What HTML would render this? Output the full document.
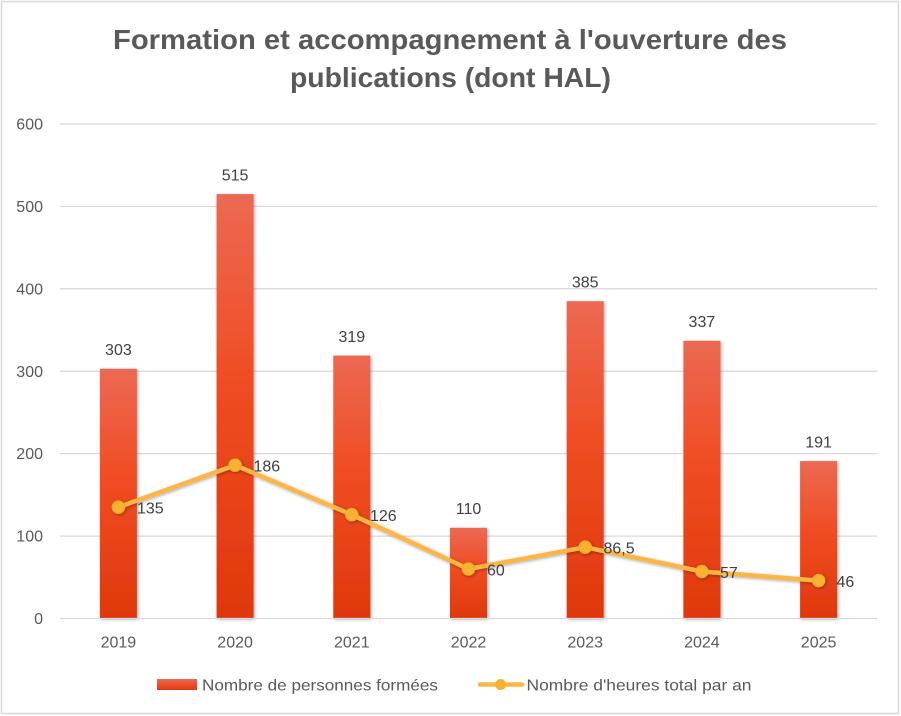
<!DOCTYPE html>
<html>
<head>
<meta charset="utf-8">
<style>
  html,body{margin:0;padding:0;background:#fff;}
  svg{display:block;}
  text{font-family:"Liberation Sans", Arial, sans-serif;}
</style>
</head>
<body>
<svg width="901" height="716" viewBox="0 0 901 716" xmlns="http://www.w3.org/2000/svg">
  <defs>
    <linearGradient id="barg" x1="0" y1="0" x2="0" y2="1">
      <stop offset="0" stop-color="#EC6953"/>
      <stop offset="0.45" stop-color="#F04C21"/>
      <stop offset="1" stop-color="#DF380C"/>
    </linearGradient>
    <linearGradient id="legg" x1="0" y1="0" x2="0" y2="1">
      <stop offset="0" stop-color="#EC6953"/>
      <stop offset="1" stop-color="#E23A0E"/>
    </linearGradient>
    <filter id="sh" x="-30%" y="-10%" width="160%" height="130%">
      <feGaussianBlur in="SourceAlpha" stdDeviation="1.6"/>
      <feOffset dx="0.8" dy="1.2" result="b"/>
      <feComponentTransfer><feFuncA type="linear" slope="0.35"/></feComponentTransfer>
      <feMerge><feMergeNode/><feMergeNode in="SourceGraphic"/></feMerge>
    </filter>
  </defs>

  <rect x="0" y="0" width="901" height="716" fill="#fff"/>
  <rect x="1.5" y="1.5" width="897" height="712" fill="none" stroke="#D9D9D9" stroke-width="1.5"/>

  <!-- Title -->
  <text x="450" y="49" text-anchor="middle" font-size="28" font-weight="bold" fill="#595959" textLength="674" lengthAdjust="spacingAndGlyphs">Formation et accompagnement à l'ouverture des</text>
  <text x="450.5" y="87" text-anchor="middle" font-size="28" font-weight="bold" fill="#595959" textLength="321" lengthAdjust="spacingAndGlyphs">publications (dont HAL)</text>

  <!-- Gridlines -->
  <g stroke="#D9D9D9" stroke-width="1.3">
    <line x1="60" y1="124" x2="877" y2="124"/>
    <line x1="60" y1="206.4" x2="877" y2="206.4"/>
    <line x1="60" y1="288.8" x2="877" y2="288.8"/>
    <line x1="60" y1="371.2" x2="877" y2="371.2"/>
    <line x1="60" y1="453.6" x2="877" y2="453.6"/>
    <line x1="60" y1="536.1" x2="877" y2="536.1"/>
  </g>

  <!-- Y tick labels -->
  <g font-size="16" fill="#595959" text-anchor="end">
    <text x="43" y="129.5">600</text>
    <text x="43" y="212">500</text>
    <text x="43" y="294.5">400</text>
    <text x="43" y="377">300</text>
    <text x="43" y="459">200</text>
    <text x="43" y="541.5">100</text>
    <text x="43" y="624">0</text>
  </g>

  <!-- Bars -->
  <g fill="url(#barg)" filter="url(#sh)">
    <rect x="99.9" y="368.8" width="37" height="249.7"/>
    <rect x="216.6" y="194.1" width="37" height="424.4"/>
    <rect x="333.3" y="355.6" width="37" height="262.9"/>
    <rect x="450" y="527.8" width="37" height="90.7"/>
    <rect x="566.7" y="301.2" width="37" height="317.3"/>
    <rect x="683.4" y="340.8" width="37" height="277.7"/>
    <rect x="800.1" y="461.1" width="37" height="157.4"/>
  </g>

  <!-- Axis line -->
  <line x1="60" y1="618.5" x2="877" y2="618.5" stroke="#D9D9D9" stroke-width="1.3"/>

  <!-- Bar data labels -->
  <g font-size="16" fill="#404040" text-anchor="middle">
    <text x="118.4" y="355">303</text>
    <text x="235.1" y="180.5">515</text>
    <text x="351.8" y="342">319</text>
    <text x="468.5" y="514">110</text>
    <text x="585.2" y="287.5">385</text>
    <text x="701.9" y="327">337</text>
    <text x="818.6" y="447.5">191</text>
  </g>

  <!-- Line series -->
  <g filter="url(#sh)">
    <polyline fill="none" stroke="#FDB644" stroke-width="4.5" stroke-linejoin="round" stroke-linecap="round"
      points="118.4,507.2 235.1,465.2 351.8,514.7 468.5,569 585.2,547.2 701.9,571.5 818.6,580.6"/>
    <g fill="#F8B131" stroke="#F2A823" stroke-width="1">
      <circle cx="118.4" cy="507.2" r="6.3"/>
      <circle cx="235.1" cy="465.2" r="6.3"/>
      <circle cx="351.8" cy="514.7" r="6.3"/>
      <circle cx="468.5" cy="569" r="6.3"/>
      <circle cx="585.2" cy="547.2" r="6.3"/>
      <circle cx="701.9" cy="571.5" r="6.3"/>
      <circle cx="818.6" cy="580.6" r="6.3"/>
    </g>
  </g>

  <!-- Line data labels -->
  <g font-size="16" fill="#404040">
    <text x="137" y="513.5">135</text>
    <text x="253.5" y="471.5">186</text>
    <text x="370" y="521">126</text>
    <text x="487" y="575.5">60</text>
    <text x="603.5" y="553.5">86,5</text>
    <text x="720" y="578">57</text>
    <text x="836.5" y="587">46</text>
  </g>

  <!-- X labels -->
  <g font-size="16" fill="#595959" text-anchor="middle">
    <text x="118.4" y="647.5">2019</text>
    <text x="235.1" y="647.5">2020</text>
    <text x="351.8" y="647.5">2021</text>
    <text x="468.5" y="647.5">2022</text>
    <text x="585.2" y="647.5">2023</text>
    <text x="701.9" y="647.5">2024</text>
    <text x="818.6" y="647.5">2025</text>
  </g>

  <!-- Legend -->
  <rect x="157" y="679" width="40" height="11" fill="url(#legg)"/>
  <text x="202" y="690.5" font-size="16" fill="#595959" textLength="236" lengthAdjust="spacingAndGlyphs">Nombre de personnes formées</text>
  <line x1="480" y1="684.5" x2="522" y2="684.5" stroke="#FDB644" stroke-width="4.5" stroke-linecap="round"/>
  <circle cx="500.7" cy="684.5" r="5.5" fill="#F8B131"/>
  <text x="526.5" y="690.5" font-size="16" fill="#595959" textLength="225" lengthAdjust="spacingAndGlyphs">Nombre d'heures total par an</text>
</svg>
</body>
</html>
